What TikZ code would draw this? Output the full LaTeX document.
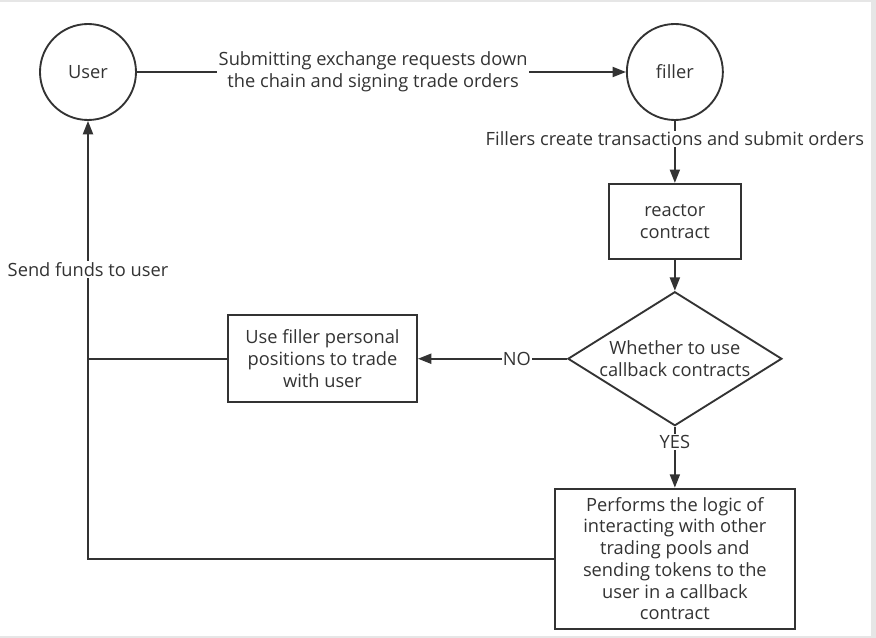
\documentclass[tikz,border=0pt]{standalone}
\usepackage{fontspec}
\setsansfont{Open Sans}
\tikzset{every picture/.style={/utils/exec={\sffamily}}}
\usetikzlibrary{positioning}
\usetikzlibrary{shapes.geometric,arrows.meta}
\definecolor{inkgray}{HTML}{333333}
\definecolor{framegray}{HTML}{E6E6E6}

\begin{document}
\begin{tikzpicture}[
    every node/.style={font=\fontsize{13.7}{16.3}\selectfont, text=inkgray},
    link/.style={draw=inkgray, line width=1.4pt},
    flow/.style={link, -{Triangle[length=10pt,width=7.5pt]}},
    roundnode/.style={draw=inkgray, line width=1.4pt, circle, minimum size=72pt, inner sep=0pt},
    boxnode/.style={draw=inkgray, line width=1.4pt, rectangle, align=center, inner sep=2pt},
    choice/.style={draw=inkgray, line width=1.4pt, diamond, aspect=1.6, minimum width=160.5pt, minimum height=100.5pt, inner sep=0pt, align=center},
    tag/.style={fill=white, inner sep=1pt, align=center}
  ]

  \fill[framegray] (-66pt,54pt) rectangle (591pt,-424.5pt);
  \fill[white] (-66pt,52.5pt) rectangle (587.25pt,-423pt);

  \node [roundnode] (user) {User};
  \node [roundnode, right=366.75pt of user] (filler) {filler};

  \node [boxnode, below=46.5pt of filler, minimum width=99pt, minimum height=56.25pt] (reactor) {reactor\\contract};
  \node [choice, below=23.25pt of reactor] (decision) {Whether to use\\callback contracts};
  \node [boxnode, left=111.75pt of decision, minimum width=141.75pt, minimum height=65.25pt] (usefiller) {Use filler personal\\positions to trade\\with user};
  \node [boxnode, below=45.75pt of decision, minimum width=180pt, minimum height=105pt] (perform) {Performs the logic of\\interacting with other\\trading pools and\\sending tokens to the\\user in a callback\\contract};

  \draw [flow] (user) -- node [tag, pos=0.483] {Submitting exchange requests down\\the chain and signing trade orders} (filler);
  \draw [flow] (filler) -- node [tag, pos=0.29] {Fillers create transactions and submit orders} (reactor);
  \draw [flow] (reactor) -- (decision);
  \draw [flow] (decision) -- node [tag, pos=0.336] {NO} (usefiller);
  \draw [flow] (decision) -- node [tag, pos=0.25] {YES} (perform);
  \draw [flow] (perform) -| node [tag, pos=0.83] {Send funds to user} (user);
  \draw [link] (usefiller) -- (usefiller -| user);

\end{tikzpicture}
\end{document}
